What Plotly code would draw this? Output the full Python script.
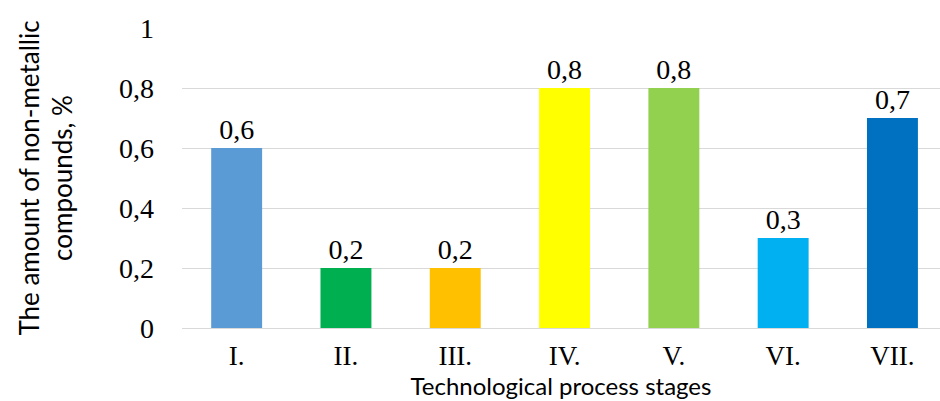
import plotly.graph_objects as go

# Stages of the technological process and measured content of non-metallic compounds
stages = ["I.", "II.", "III.", "IV.", "V.", "VI.", "VII."]
amount = [0.6, 0.2, 0.2, 0.8, 0.8, 0.3, 0.7]
bar_colors = ["#5B9BD5", "#00B050", "#FFC000", "#FFFF00", "#92D050", "#00B0F0", "#0070C0"]
y_ticks = [0, 0.2, 0.4, 0.6, 0.8, 1]

serif = "Liberation Serif, Times New Roman, serif"
sans = "Lato, Carlito, Calibri, sans-serif"

fig = go.Figure(
    go.Bar(
        x=stages,
        y=amount,
        marker=dict(color=bar_colors, line=dict(width=0)),
        texttemplate="%{y:.1f}",
        textposition="outside",
        textfont=dict(family=serif, size=28, color="#000000"),
        cliponaxis=False,
        hoverinfo="skip",
    )
)

fig.update_layout(
    width=940,
    height=401,
    margin=dict(l=182, r=0, t=28, b=73),
    paper_bgcolor="#ffffff",
    plot_bgcolor="#ffffff",
    separators=",.",
    bargap=0.534,
    showlegend=False,
    xaxis=dict(
        type="category",
        range=[-0.5, 6.435],
        showgrid=False,
        showline=True,
        linecolor="#d9d9d9",
        linewidth=1,
        ticks="",
        tickfont=dict(family=serif, size=27, color="#000000"),
        ticklabelstandoff=4,
        title=dict(
            text="Technological process stages",
            font=dict(family=sans, size=24, color="#000000"),
            standoff=0,
        ),
    ),
    yaxis=dict(
        range=[0, 1],
        tickvals=y_ticks,
        tickformat="~g",
        showgrid=True,
        gridcolor="#d9d9d9",
        gridwidth=1,
        zeroline=True,
        zerolinecolor="#d9d9d9",
        zerolinewidth=1,
        ticks="",
        tickfont=dict(family=serif, size=28, color="#000000"),
        ticklabelstandoff=27,
        title=dict(
            text="The amount of non-metallic<br>compounds, %",
            font=dict(family=sans, size=26, color="#000000"),
            standoff=38,
        ),
    ),
)

fig.write_html("out.html")
